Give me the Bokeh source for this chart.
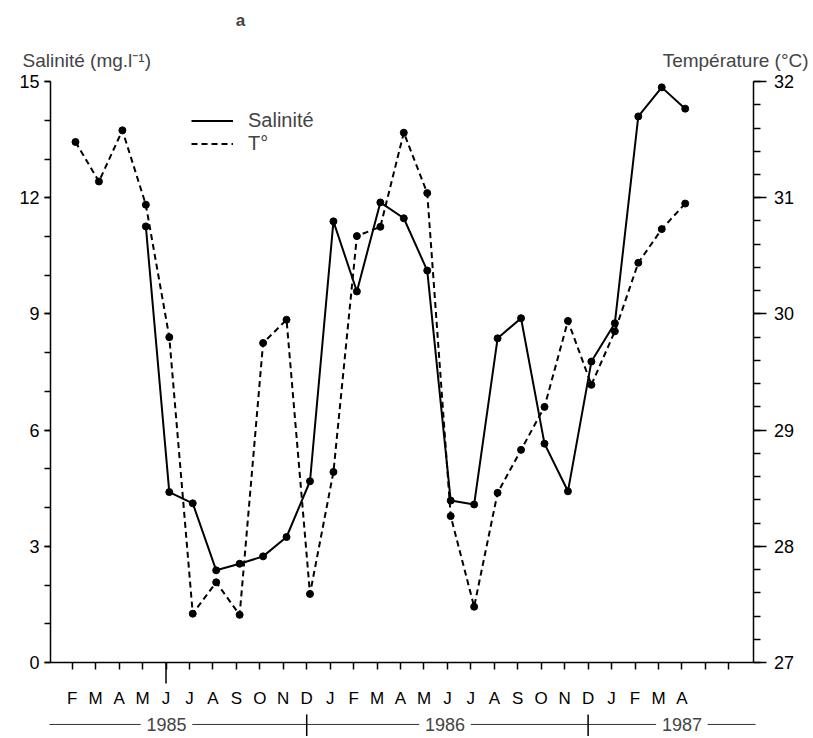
from bokeh.plotting import figure
from bokeh.models import (Range1d, LinearAxis, SingleIntervalTicker, FixedTicker,
                          Label, Arrow, Legend, LegendItem)
from bokeh.embed import file_html
from bokeh.resources import INLINE

# ---- data ----
month_labels = ["F", "M", "A", "M", "J", "J", "A", "S", "O", "N", "D",
                "J", "F", "M", "A", "M", "J", "J", "A", "S", "O", "N", "D",
                "J", "F", "M", "A"]
temp_months = list(range(0, 27))          # Feb 1985 .. Apr 1987
temperature = [31.48, 31.14, 31.58, 30.94, 29.80, 27.42, 27.69, 27.41, 29.75,
               29.95, 27.59, 28.64, 30.67, 30.75, 31.56, 31.04, 28.26, 27.48,
               28.46, 28.83, 29.20, 29.94, 29.39, 29.85, 30.44, 30.73, 30.95]
sal_months = list(range(3, 27))           # May 1985 .. Apr 1987
salinity = [11.26, 4.40, 4.11, 2.38, 2.55, 2.74, 3.24, 4.68, 11.39, 9.58,
            11.88, 11.47, 10.12, 4.18, 4.08, 8.37, 8.89, 5.65, 4.42, 7.77,
            8.76, 14.10, 14.85, 14.30]
years = ["1985", "1986", "1987"]
year_centres = [4.02, 15.9, 26.0]
year_breaks = [10, 22]

FONT = "Liberation Sans"
SAMPLE_SHIFT = 0.14   # samples sit slightly after the month tick

# frame covers the whole canvas; axes are placed at fixed data locations
X0, X1 = -3.058, 31.526
Y0, Y1 = -1.911, 17.093
XL, XR = -0.93, 29.07          # left / right axis positions (month units)

p = figure(width=811, height=736, x_range=Range1d(X0, X1), y_range=Range1d(Y0, Y1),
           output_backend="svg", toolbar_location=None,
           x_axis_type=None, y_axis_type=None,
           min_border=0, min_border_left=0, min_border_right=0,
           min_border_top=0, min_border_bottom=0)
p.outline_line_color = None
p.background_fill_color = "white"
p.border_fill_color = "white"
p.extra_y_ranges = {"temp": Range1d(27 + Y0 / 3, 27 + Y1 / 3)}

# bottom axis (months)
overrides = {i: m for i, m in enumerate(month_labels)}
overrides.update({27: "", 28: ""})
xa = LinearAxis(ticker=FixedTicker(ticks=list(range(29))), major_label_overrides=overrides,
                fixed_location=0, bounds=(XL, XR))
xa.major_tick_in = 0
xa.major_tick_out = 7
xa.axis_line_width = 1.5
xa.major_tick_line_width = 1.5
xa.major_label_standoff = 20
xa.major_label_text_font = FONT
xa.major_label_text_font_size = "17px"
xa.major_label_text_color = "black"
p.add_layout(xa, "below")

# left axis (salinity)
ya = LinearAxis(ticker=SingleIntervalTicker(interval=3, num_minor_ticks=3),
                fixed_location=XL, bounds=(0, 15))
ya.major_tick_in = 0
ya.major_tick_out = 6
ya.minor_tick_in = 0
ya.minor_tick_out = 6
ya.axis_line_width = 1.5
ya.major_tick_line_width = 1.5
ya.minor_tick_line_width = 1.5
ya.major_label_standoff = 5
ya.major_label_text_font = FONT
ya.major_label_text_font_size = "18px"
ya.major_label_text_color = "black"
p.add_layout(ya, "left")

# right axis (temperature)
yr = LinearAxis(y_range_name="temp", ticker=SingleIntervalTicker(interval=1, num_minor_ticks=5),
                fixed_location=XR, bounds=(27, 32))
yr.major_tick_in = 0
yr.major_tick_out = 13
yr.minor_tick_in = 0
yr.minor_tick_out = 7
yr.axis_line_width = 1.5
yr.major_tick_line_width = 1.5
yr.minor_tick_line_width = 1.5
yr.major_label_standoff = 7
yr.major_label_text_font = FONT
yr.major_label_text_font_size = "18px"
yr.major_label_text_color = "black"
p.add_layout(yr, "right")

# series
sx = [m + SAMPLE_SHIFT for m in sal_months]
tx = [m + SAMPLE_SHIFT for m in temp_months]
sal_line = p.line(sx, salinity, line_color="black", line_width=2)
p.scatter(sx, salinity, size=7, color="black")
temp_line = p.line(tx, temperature, y_range_name="temp", line_color="black",
                   line_width=2, line_dash="6 4")
p.scatter(tx, temperature, y_range_name="temp", size=7, color="black")

legend = Legend(items=[LegendItem(label="Salinité", renderers=[sal_line]),
                       LegendItem(label="T°", renderers=[temp_line])],
                location=(191, 581))
legend.border_line_color = None
legend.background_fill_alpha = 0
legend.glyph_width = 42
legend.glyph_height = 21
legend.label_height = 21
legend.label_standoff = 15
legend.spacing = 0
legend.padding = 0
legend.margin = 0
legend.label_text_font = FONT
legend.label_text_font_size = "20px"
p.add_layout(legend)

# titles
p.add_layout(Label(x=-2.12, y=15.54, text="Salinité (mg.l⁻¹)", text_font=FONT,
                   text_font_size="19px", text_baseline="middle", text_align="left"))
p.add_layout(Label(x=31.4, y=15.54, text="Température (°C)", text_font=FONT,
                   text_font_size="19px", text_baseline="middle", text_align="right"))
p.add_layout(Label(x=7.18, y=16.58, text="a", text_font=FONT, text_font_style="bold",
                   text_font_size="17px", text_baseline="middle", text_align="center"))

# longer tick under June 1985
p.add_layout(Arrow(end=None, x_start=4, y_start=0, x_end=4, y_end=-0.54,
                   line_width=1.5, line_color="black"))

# year row
YROW = -1.60
GAP = 1.1
starts = [-0.97] + year_breaks
ends = year_breaks + [29.14]
for c, s, e, yl in zip(year_centres, starts, ends, years):
    p.add_layout(Label(x=c, y=YROW, text=yl, text_font=FONT, text_font_size="18px",
                       text_baseline="middle", text_align="center"))
    p.add_layout(Arrow(end=None, x_start=s, y_start=YROW, x_end=c - GAP, y_end=YROW,
                       line_width=1, line_color="#333333"))
    p.add_layout(Arrow(end=None, x_start=c + GAP, y_start=YROW, x_end=e, y_end=YROW,
                       line_width=1, line_color="#333333"))
for b in year_breaks:
    p.add_layout(Arrow(end=None, x_start=b, y_start=-1.34, x_end=b, y_end=-1.91,
                       line_width=1.5, line_color="black"))

open("out.html", "w").write(file_html(p, INLINE))
